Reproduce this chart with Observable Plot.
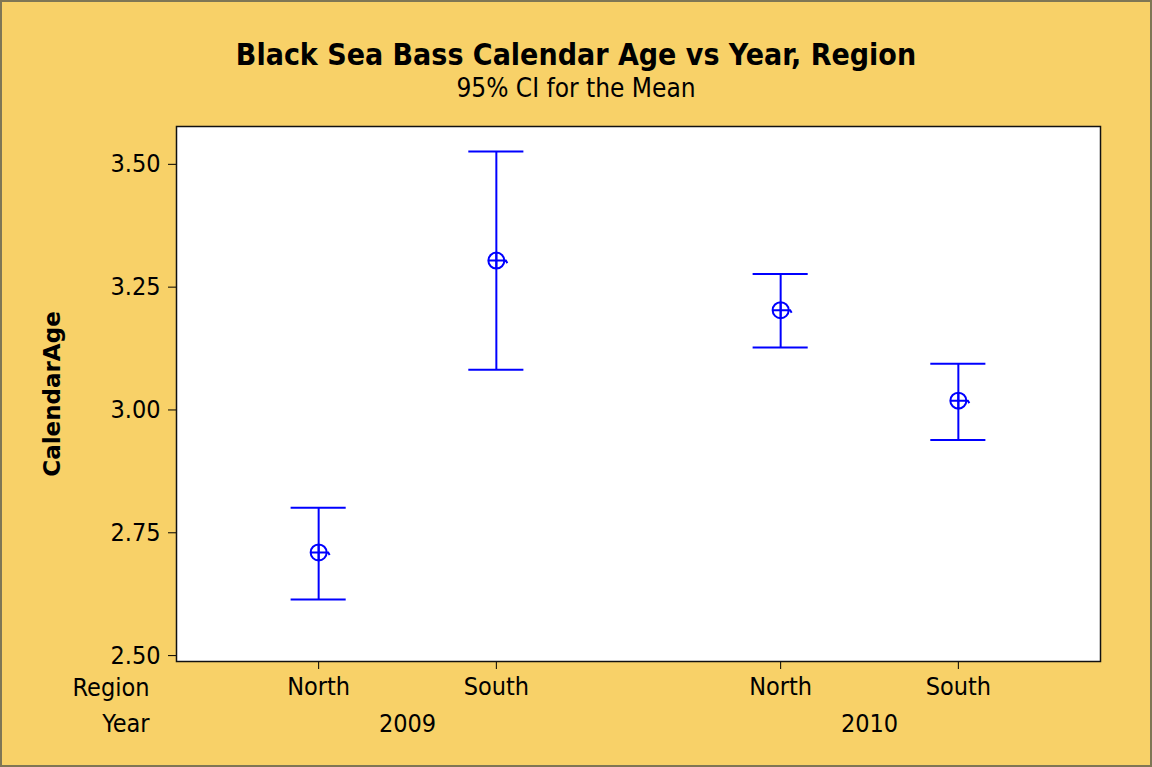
<!DOCTYPE html>
<html>
<head>
<meta charset="utf-8">
<script src="https://cdn.jsdelivr.net/npm/d3@7"></script>
<script src="https://cdn.jsdelivr.net/npm/@observablehq/plot@0.6"></script>
<style>
  html, body { margin: 0; padding: 0; background: #F8D168; }
  #chart {
    position: relative; width: 1152px; height: 767px; background: #F8D168;
    font-family: "DejaVu Sans Condensed", "DejaVu Sans", Tahoma, sans-serif; color: #000;
  }
  #chart .border {
    position: absolute; inset: 0; border: 2px solid #7f7655; box-sizing: border-box; pointer-events: none;
  }
  #chart h1, #chart h2 {
    position: absolute; left: 0; width: 100%; margin: 0; text-align: center; line-height: 1; font-weight: normal;
  }
  #chart h1 { top: 40px; font-size: 30px; font-weight: bold; }
  #chart h2 { top: 75px; font-size: 26px; }
  #chart svg { position: absolute; left: 0; top: 0; }
</style>
</head>
<body>
<div id="chart">
  <h1>Black Sea Bass Calendar Age vs Year, Region</h1>
  <h2>95% CI for the Mean</h2>
  <div class="border"></div>
</div>
<script>
// Interval plot: mean calendar age with 95% confidence interval, by year and region
const years = ["2009", "2009", "2010", "2010"];
const regions = ["North", "South", "North", "South"];
const means = [2.710, 3.304, 3.203, 3.019];
const lower = [2.614, 3.082, 3.127, 2.939];
const upper = [2.801, 3.526, 3.277, 3.094];
const yTicks = [2.50, 2.75, 3.00, 3.25, 3.50];

const yearGroups = Array.from(new Set(years));
const groupGap = 0.6;   // extra space between year groups, in slot units
const capHalf = 0.155;  // half-width of interval caps, in slot units

const rows = regions.map((region, i) => ({
  year: years[i],
  region,
  mean: means[i],
  lo: lower[i],
  hi: upper[i],
  pos: i + yearGroups.indexOf(years[i]) * groupGap
}));

const yearRows = yearGroups.map(year => ({
  year,
  pos: d3.mean(rows.filter(d => d.year === year), d => d.pos)
}));

// Mean marker: circle with crosshair and a small tail on the right
const meanSymbol = {
  draw(ctx, size) {
    const r = Math.sqrt(size / Math.PI);
    ctx.moveTo(r, 0);
    ctx.arc(0, 0, r, 0, 2 * Math.PI);
    ctx.moveTo(-r, 0);
    ctx.lineTo(r + 1.5, 0);
    ctx.lineTo(r + 3, 2.5);
    ctx.moveTo(0, -r);
    ctx.lineTo(0, r);
  }
};

const blue = "#0000ff";
const labelFont = 25;

const plot = Plot.plot({
  width: 1152,
  height: 767,
  marginTop: 126,
  marginBottom: 106,
  marginLeft: 176,
  marginRight: 52,
  style: { background: "transparent", fontFamily: "\"DejaVu Sans Condensed\", \"DejaVu Sans\", sans-serif", color: "#000", overflow: "visible" },
  x: { domain: [-0.8, rows[rows.length - 1].pos + 0.8] },
  y: { domain: [2.488, 3.577] },
  marks: [
    Plot.frame({ fill: "white" }),
    Plot.axisY(yTicks, {
      tickFormat: d3.format(".2f"), tickSize: 8, tickPadding: 8, fontSize: labelFont, label: null, stroke: "#000"
    }),
    Plot.axisX(rows.map(d => d.pos), {
      tickFormat: p => rows.find(d => d.pos === p).region,
      tickSize: 8, tickPadding: 8, fontSize: labelFont, label: null, stroke: "#000"
    }),
    Plot.text(yearRows, {
      x: "pos", text: "year", frameAnchor: "bottom", dy: 53, lineAnchor: "top", fontSize: labelFont
    }),
    Plot.text(["Region"], {
      frameAnchor: "bottom-left", dx: -27, dy: 17, textAnchor: "end", lineAnchor: "top", fontSize: labelFont
    }),
    Plot.text(["Year"], {
      frameAnchor: "bottom-left", dx: -27, dy: 53, textAnchor: "end", lineAnchor: "top", fontSize: labelFont
    }),
    Plot.text(["CalendarAge"], {
      frameAnchor: "left", textAnchor: "middle", dx: -124, rotate: -90,
      fontFamily: "\"DejaVu Sans\", sans-serif", fontWeight: "bold", fontSize: 23
    }),
    Plot.ruleX(rows, { x: "pos", y1: "lo", y2: "hi", stroke: blue, strokeWidth: 2 }),
    Plot.ruleY(rows, { y: "hi", x1: d => d.pos - capHalf, x2: d => d.pos + capHalf, stroke: blue, strokeWidth: 2 }),
    Plot.ruleY(rows, { y: "lo", x1: d => d.pos - capHalf, x2: d => d.pos + capHalf, stroke: blue, strokeWidth: 2 }),
    Plot.dot(rows, { x: "pos", y: "mean", r: 8, symbol: meanSymbol, fill: "none", stroke: blue, strokeWidth: 2 }),
    Plot.frame({ stroke: "#111", strokeWidth: 1.5 })
  ]
});

document.getElementById("chart").insertBefore(plot, document.querySelector("#chart .border"));
</script>
</body>
</html>
